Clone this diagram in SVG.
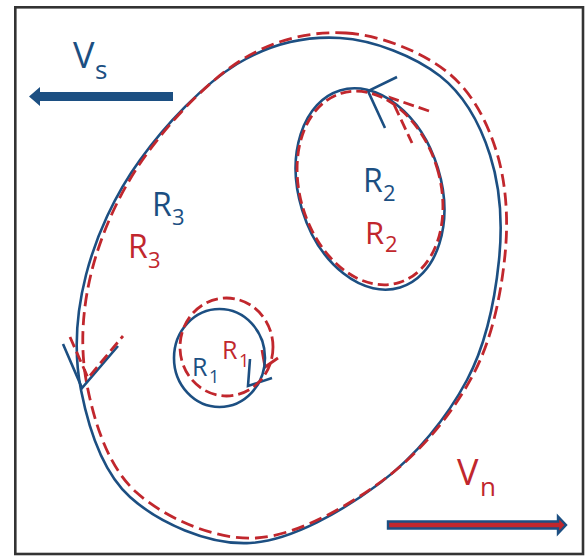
<svg xmlns="http://www.w3.org/2000/svg" width="585" height="557" viewBox="0 0 585 557">
<style>
.b{fill:none;stroke:#1c4f82;stroke-width:2.6;stroke-linecap:butt;stroke-linejoin:miter}
.r{fill:none;stroke:#c1272d;stroke-width:2.8;stroke-dasharray:13 6}
.bt{fill:#1c4f82;font-family:'Open Sans','DejaVu Sans',sans-serif}
.rt{fill:#c1272d;font-family:'Open Sans','DejaVu Sans',sans-serif}
</style>
<defs>
<path id="loop" d="M340,38 C373.8,40 415,56.5 440,76 C465,95.5 480.2,124.3 490,155 C499.8,185.7 502.8,222.5 499,260 C495.2,297.5 486.8,342.8 467,380 C447.2,417.2 416.2,455.8 380,483 C343.8,510.2 291.7,540.7 250,543 C208.3,545.3 158.2,522.5 130,497 C101.8,471.5 88.3,427 81,390 C73.7,353 76.2,313.3 86,275 C95.8,236.7 114.8,194.5 140,160 C165.2,124.8 203.7,84.3 237,64 C270.3,43.7 306.2,36 340,38 Z"/>
</defs>
<rect x="15.3" y="7.3" width="567.7" height="546.7" fill="#fff" stroke="#333" stroke-width="2.6"/>
<g id="connectors">
<use href="#loop" class="b"/>
<use href="#loop" class="r" transform="translate(6,-5)"/>
<polyline class="b" points="63,344 82,388 118,346"/>
<polyline class="r" style="stroke-dasharray:11 5" points="70,337 88,378 123,336"/>
<polyline class="b" points="397,77 368,91 385,128"/>
<polyline class="r" style="stroke-dasharray:11 5" points="429,111 391,98 412,143"/>
<polyline class="b" points="250,359 248,386 272,378"/>
<polyline class="r" style="stroke-dasharray:none" points="262,350 265,367 278,358"/>
</g>
<g id="R3">
<text class="bt"><tspan x="152" y="216" font-size="32">R</tspan><tspan x="172" y="225" font-size="22">3</tspan></text>
<text class="rt"><tspan x="128" y="258" font-size="32">R</tspan><tspan x="148" y="268" font-size="22">3</tspan></text>
</g>
<g id="R2">
<ellipse class="b" cx="370" cy="189" rx="71" ry="103" transform="rotate(-17 370 189)"/>
<ellipse class="r" style="stroke-dasharray:11 5" cx="370" cy="188" rx="70" ry="99" transform="rotate(-17 370 188)"/>
<text class="bt"><tspan x="363" y="192" font-size="32">R</tspan><tspan x="383" y="201" font-size="22">2</tspan></text>
<text class="rt"><tspan x="365" y="244" font-size="31">R</tspan><tspan x="385" y="252" font-size="22">2</tspan></text>
</g>
<g id="R1">
<ellipse class="b" cx="219.5" cy="358" rx="45.5" ry="49"/>
<ellipse class="r" style="stroke-dasharray:12 5" cx="226.5" cy="347" rx="46.5" ry="49"/>
<text class="bt"><tspan x="192" y="376" font-size="25">R</tspan><tspan x="209" y="383" font-size="18">1</tspan></text>
<text class="rt"><tspan x="222" y="359" font-size="25">R</tspan><tspan x="239" y="367" font-size="18">1</tspan></text>
</g>
<g id="Vs">
<polygon fill="#1c4f82" points="29,96.5 40,87 40,92 173,92 173,101 40,101 40,106"/>
<text class="bt"><tspan x="73" y="68" font-size="36">V</tspan><tspan x="95" y="79" font-size="26">s</tspan></text>
</g>
<g id="Vn">
<polygon fill="#c1272d" stroke="#1c4f82" stroke-width="2.4" points="388,521.5 558,521.5 558,516.5 566,525 558,533.5 558,528.5 388,528.5"/>
<text class="rt"><tspan x="457" y="485" font-size="36">V</tspan><tspan x="480" y="496" font-size="26">n</tspan></text>
</g>
</svg>
